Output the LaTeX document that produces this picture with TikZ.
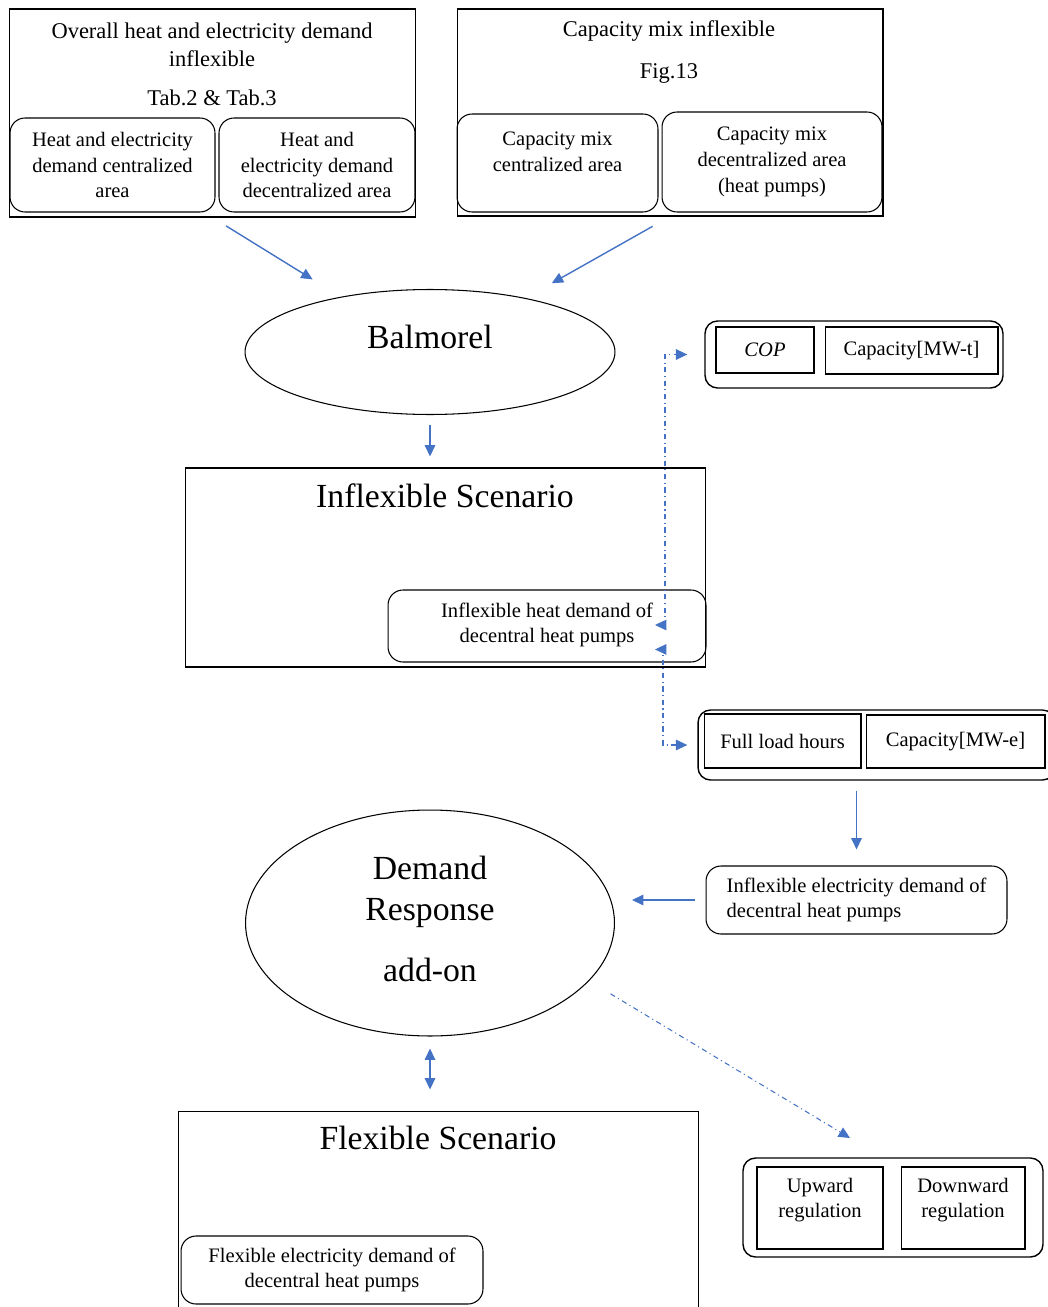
\documentclass[tikz,border=0pt]{standalone}
\usepackage{fontspec}
\setmainfont{Liberation Serif}
\usepackage{tikz}
\usetikzlibrary{arrows.meta, positioning, shapes, calc}
\definecolor{azul}{RGB}{68, 114, 196}
\tikzset{
    frame/.style={draw, rectangle, line width=0.6pt, inner sep=0pt},
    rbox/.style={draw, rectangle, rounded corners=0.3cm, line width=0.6pt, inner sep=0pt, align=center, font=\fontsize{11.7}{14.7}\selectfont},
    grp/.style={draw, rectangle, rounded corners=0.25cm, line width=0.8pt, inner sep=0pt},
    cell/.style={draw, rectangle, line width=0.6pt, inner sep=0pt, align=center, font=\fontsize{11.7}{14.7}\selectfont},
    oval/.style={draw, ellipse, line width=0.6pt, inner sep=0pt},
    txt/.style={align=center, font=\fontsize{11.7}{14.7}\selectfont, inner sep=1pt},
    ttl/.style={align=center, font=\fontsize{12.8}{15.9}\selectfont, inner sep=1pt},
    big/.style={align=center, font=\fontsize{19.2}{23.2}\selectfont, inner sep=1pt},
    conn/.style={->, azul, line width=0.8pt},
    dconn/.style={<->, azul, line width=0.6pt, dash dot},
}

\begin{document}
\begin{tikzpicture}[x=0.02cm, y=-0.02cm, >={Triangle[length=6.5pt, width=6pt]}]
    \useasboundingbox (0,0) rectangle (1047,1307);

    \node[frame, minimum width=8.14cm, minimum height=4.16cm] (dem) at (212.5,113) {};
    \node[ttl] (demT) at (212,45) {Overall heat and electricity demand\\inflexible};
    \node[ttl] (demTab) at (212,98) {Tab.2 \& Tab.3};
    \node[rbox, minimum width=4.10cm, minimum height=1.88cm] (demC) at (112.5,165) {Heat and electricity\\demand centralized\\area};
    \node[rbox, minimum width=3.92cm, minimum height=1.88cm] (demD) at (317,165) {Heat and\\electricity demand\\decentralized area};

    \node[frame, minimum width=8.52cm, minimum height=4.14cm] (cap) at (670,112.5) {};
    \node[ttl] (capT) at (669,31) {Capacity mix inflexible};
    \node[ttl] (capFig) at (669,73) {Fig.13};
    \node[rbox, minimum width=4.02cm, minimum height=1.96cm] (capC) at (557.5,163) {};
    \node[txt] (capCT) at (557.5,152) {Capacity mix\\centralized area};
    \node[rbox, minimum width=4.40cm, minimum height=2.00cm] (capD) at (772,162) {Capacity mix\\decentralized area\\(heat pumps)};

    \node[oval, minimum width=7.40cm, minimum height=2.50cm] (bal) at (430,352) {};
    \node[big] (balT) at (430,337) {Balmorel};

    \node[frame, minimum width=10.42cm, minimum height=3.98cm] (infl) at (445.5,567.5) {};
    \node[big] (inflT) at (445,496) {Inflexible Scenario};
    \node[rbox, minimum width=6.36cm, minimum height=1.44cm] (ihd) at (547,626) {};
    \node[txt] (ihdT) at (547,625) {Inflexible heat demand of\\decentral heat pumps};

    \node[grp, minimum width=5.96cm, minimum height=1.34cm] (copgrp) at (854,354.5) {};
    \node[cell, minimum width=1.96cm, minimum height=0.92cm] (cop) at (765,350) {\itshape COP};
    \node[cell, minimum width=3.46cm, minimum height=0.94cm] (capT) at (911.5,350.5) {Capacity[MW-t]};

    \node[grp, minimum width=7.14cm, minimum height=1.40cm] (flgrp) at (876.5,745) {};
    \node[cell, minimum width=3.14cm, minimum height=1.08cm] (flh) at (782.5,741) {Full load hours};
    \node[cell, minimum width=3.58cm, minimum height=1.06cm] (capE) at (955.5,741.5) {Capacity[MW-e]};

    \node[rbox, align=left, minimum width=6.02cm, minimum height=1.36cm] (ied) at (856.5,900) {Inflexible electricity demand of\\decentral heat pumps};

    \node[oval, minimum width=7.38cm, minimum height=4.52cm] (dr) at (430,923) {};
    \node[big] (drT) at (430,891.5) {Demand\\Response};
    \node[big] (drAdd) at (430,970) {add-on};

    \node[frame, minimum width=10.42cm, minimum height=4.38cm] (flex) at (438.5,1220.5) {};
    \node[big] (flexT) at (438,1138) {Flexible Scenario};
    \node[rbox, minimum width=6.04cm, minimum height=1.36cm] (fed) at (332,1270) {Flexible electricity demand of\\decentral heat pumps};

    \node[grp, minimum width=6.00cm, minimum height=1.98cm] (reg) at (893,1207.5) {};
    \node[cell, minimum width=2.52cm, minimum height=1.64cm] (up) at (820,1208) {};
    \node[txt] (upT) at (820,1200) {Upward\\regulation};
    \node[cell, minimum width=2.48cm, minimum height=1.64cm] (down) at (963,1208) {};
    \node[txt] (downT) at (963,1200) {Downward\\regulation};
    \coordinate (regTip) at (850,1138);

    \draw[conn, shorten <=0.32cm, shorten >=0.66cm] (dem.south) -- (bal);
    \draw[conn, shorten <=0.4cm, shorten >=0.6cm] (cap.south) -- (bal);
    \draw[conn, shorten <=0.2cm, shorten >=0.22cm] (bal.south) -- (bal.south |- infl.north);
    \draw[dconn, shorten >=0.34cm] (ihdT.east) -- ++(10,0) |- (copgrp.west);
    \draw[dconn, shorten >=0.2cm] (ihdT.south east) -- ++(8,0) |- (flgrp.west);
    \draw[conn, shorten <=0.2cm, shorten >=0.32cm] (flgrp.south -| ied.north) -- (ied.north);
    \draw[conn, shorten <=0.22cm, shorten >=0.34cm] (ied.west) -- (ied.west -| dr.east);
    \draw[conn, <->, shorten <=0.24cm, shorten >=0.42cm] (dr.south) -- (dr.south |- flex.north);
    \draw[dconn, ->, shorten <=0.5cm] (dr.-20) -- (regTip);
\end{tikzpicture}
\end{document}
